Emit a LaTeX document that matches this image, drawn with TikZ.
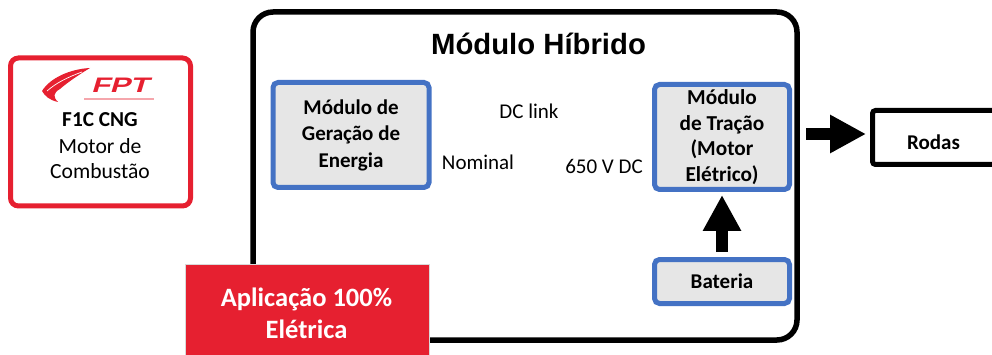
\documentclass[tikz,border=0pt]{standalone}
\usepackage{fontspec}
\setmainfont{Carlito}
\newfontfamily\arialfont{Liberation Sans}
\usetikzlibrary{arrows.meta}
\definecolor{fptred}{HTML}{E62030}
\definecolor{modblue}{HTML}{4472C4}
\definecolor{modgray}{HTML}{E6E6E6}
\tikzset{
    modbox/.style={draw=modblue, fill=modgray, line width=5pt, rounded corners=5pt, align=center, inner sep=0pt, font=\fontsize{21}{26.5}\selectfont\bfseries},
    plainlabel/.style={inner sep=0pt, font=\fontsize{21}{26}\selectfont},
    blockarrow/.style={line width=12pt, -{Triangle[length=36pt,width=36pt]}}
}
\begin{document}
\begin{tikzpicture}[x=1pt,y=-1pt]
            \useasboundingbox (0,0) rectangle (992,355);
            % hybrid module frame
            \node (hibrido) at (525,176) [draw, line width=5.5pt, rounded corners=20pt, minimum width=544pt, minimum height=328pt, inner sep=0pt] {};
            \node (titulo) at (538.5,44) [inner sep=0pt, font=\arialfont\fontsize{29.3}{30}\selectfont\bfseries] {Módulo Híbrido};
            % combustion engine card
            \node (motor) at (100.5,132) [draw=fptred, line width=5pt, rounded corners=8pt, minimum width=180pt, minimum height=148pt, inner sep=0pt] {};
            \fill [fptred] (90,68) .. controls (70,69) and (50,78) .. (42,91) .. controls (45,96) and (49,100) .. (58,102) .. controls (53,97) and (53,93) .. (60,89) .. controls (68,82) and (80,74) .. (90,68);
            \draw [white, line width=0.7pt] (47,91) .. controls (56,83) and (68,77) .. (82,72);
            \node (fpt) at (122,85) [inner sep=0pt, fptred, xslant=0.3, font=\arialfont\fontsize{21}{21}\selectfont\bfseries] {\scalebox{1.45}[1]{FPT}};
            \fill [fptred!40] (84,98) rectangle (154,100);
            \node (fic) at (100,120) [plainlabel, font=\fontsize{21.3}{24}\selectfont\bfseries] {F1C CNG};
            \node (combustao) at (100,158.5) [plainlabel, align=center, font=\fontsize{21.6}{25.5}\selectfont] {Motor de\\Combustão};
            % inner modules
            \node (geracao) at (351,135) [modbox, minimum width=156pt, minimum height=105pt] {Módulo de\\Geração de\\Energia};
            \node (tracao) at (722,137) [modbox, minimum width=135pt, minimum height=105pt, font=\fontsize{21.3}{25.5}\selectfont\bfseries] {Módulo\\de Tração\\(Motor\\Elétrico)};
            \node (bateria) at (722,281.5) [modbox, minimum width=135pt, minimum height=44pt] {Bateria};
            \node (rodas) at (935,137.5) [draw, line width=5pt, rounded corners=3pt, minimum width=125pt, minimum height=54pt, inner sep=0pt] {};
            \node (rodaslabel) at (933.5,142) [plainlabel, font=\fontsize{21}{22}\selectfont\bfseries] {Rodas};
            % link labels
            \node (dclink) at (529,111) [plainlabel] {DC link};
            \node (nominal) at (478,162) [plainlabel] {Nominal};
            \node (tensao) at (604,166) [plainlabel] {650 V DC};
            % arrows
            \draw [blockarrow, shorten <=14pt, shorten >=4pt] ([yshift=3pt]tracao.east) -- ([yshift=3.5pt]rodas.west);
            \draw [blockarrow, shorten <=5pt, shorten >=3pt] (bateria.north) -- (tracao.south);
            % banner
            \node (aplicacao) at (307,313) [draw=black!15, fill=fptred, line width=1pt, minimum width=244pt, minimum height=98pt, inner sep=0pt] {};
            \node (aplicacaolabel) at (306.5,313) [text=white, align=center, inner sep=0pt, font=\fontsize{26.5}{32}\selectfont\bfseries] {Aplicação 100\%\\Elétrica};
        \end{tikzpicture}
\end{document}
